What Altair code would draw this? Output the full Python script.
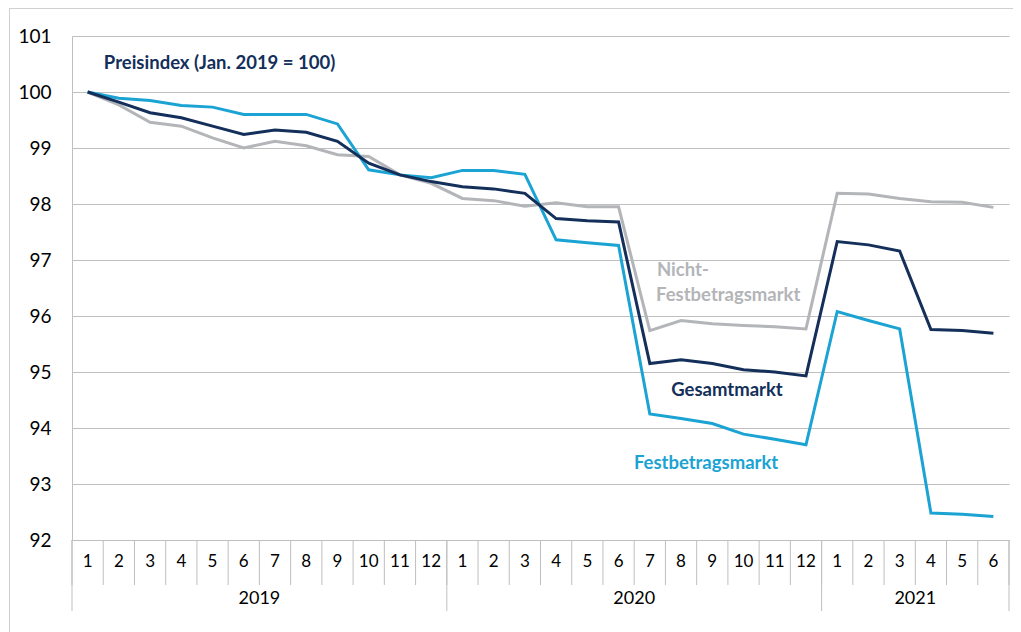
import altair as alt
import pandas as pd

# ---- data ----
month_labels = [str(m) for m in range(1, 13)] + [str(m) for m in range(1, 13)] + [str(m) for m in range(1, 7)]
years = ["2019", "2020", "2021"]
months_per_year = [12, 12, 6]

gesamt = [100.00, 99.82, 99.63, 99.54, 99.39, 99.24, 99.32, 99.28, 99.12, 98.73, 98.52, 98.40,
          98.31, 98.27, 98.19, 97.74, 97.70, 97.68, 95.15, 95.22, 95.15, 95.04, 95.00, 94.93,
          97.33, 97.27, 97.16, 95.76, 95.74, 95.69]
festbetrag = [100.00, 99.89, 99.85, 99.76, 99.73, 99.60, 99.60, 99.60, 99.43, 98.61, 98.52, 98.47,
              98.60, 98.60, 98.53, 97.36, 97.31, 97.26, 94.25, 94.17, 94.08, 93.89, 93.80, 93.70,
              96.08, 95.92, 95.77, 92.48, 92.46, 92.42]
nicht_fest = [100.00, 99.77, 99.46, 99.39, 99.18, 99.00, 99.12, 99.04, 98.88, 98.85, 98.52, 98.37,
              98.10, 98.06, 97.96, 98.02, 97.95, 97.95, 95.74, 95.92, 95.86, 95.83, 95.81, 95.77,
              98.19, 98.18, 98.10, 98.04, 98.03, 97.94]

y_ticks = list(range(92, 102))

# annotations (data units)
ann_text = ["Preisindex (Jan. 2019 = 100)", "Nicht-", "Festbetragsmarkt", "Gesamtmarkt", "Festbetragsmarkt"]
ann_x = [1.02, 18.73, 18.70, 20.97, 20.30]
ann_y = [100.52, 96.82, 96.37, 94.68, 93.38]

NAVY = "#132f5a"
LIGHT = "#1ba3d3"
GREY = "#b3b5b8"
GRID = "#bfbfbf"
FONT = "Lato"
ann_color = [NAVY, GREY, GREY, NAVY, LIGHT]
ann_align = ["left", "left", "left", "center", "center"]

n = len(month_labels)
pos = [i + 0.5 for i in range(n)]
df = pd.DataFrame({"pos": pos, "label": month_labels,
                   "ges": gesamt, "fest": festbetrag, "nicht": nicht_fest})

W, H = 937, 504
xs = alt.Scale(domain=[0, n], nice=False, zero=False)
ys = alt.Scale(domain=[92, 101], nice=False, zero=False)
y_axis = alt.Axis(values=y_ticks, title=None, ticks=False, grid=True,
                  gridColor=GRID, domainColor=GRID, labelFontSize=19,
                  labelFont=FONT, labelColor="#000000", labelPadding=21)

base = alt.Chart(df)


def line(field, color):
    return base.mark_line(color=color, strokeWidth=3).encode(
        x=alt.X("pos:Q", scale=xs, axis=None),
        y=alt.Y(f"{field}:Q", scale=ys, axis=y_axis),
    )


lines = [line("nicht", GREY), line("fest", LIGHT), line("ges", NAVY)]

# month separators
sep_df = pd.DataFrame({"b": list(range(n + 1))})
sep = alt.Chart(sep_df).mark_rule(color=GRID, strokeWidth=1).encode(
    x=alt.X("b:Q", scale=xs, axis=None), y=alt.value(H), y2=alt.value(H + 45))

# year separators
ybounds = [0]
for m in months_per_year:
    ybounds.append(ybounds[-1] + m)
ysep_df = pd.DataFrame({"b": ybounds})
ysep = alt.Chart(ysep_df).mark_rule(color=GRID, strokeWidth=1).encode(
    x=alt.X("b:Q", scale=xs, axis=None), y=alt.value(H), y2=alt.value(H + 71))

# month labels
mlab = base.mark_text(fontSize=17, font=FONT, color="#000000", baseline="middle").encode(
    x=alt.X("pos:Q", scale=xs, axis=None), y=alt.value(H + 22), text="label:N")

# year labels
ycent = [(ybounds[i] + ybounds[i + 1]) / 2 for i in range(len(years))]
ylab_df = pd.DataFrame({"c": ycent, "year": years})
ylab = alt.Chart(ylab_df).mark_text(fontSize=18, font=FONT, color="#000000", baseline="middle").encode(
    x=alt.X("c:Q", scale=xs, axis=None), y=alt.value(H + 59), text="year:N")

# annotations
ann_layers = []
for t, ax, ay, c, al in zip(ann_text, ann_x, ann_y, ann_color, ann_align):
    d = pd.DataFrame({"x": [ax], "y": [ay], "t": [t]})
    ann_layers.append(
        alt.Chart(d).mark_text(fontSize=18.5, font=FONT, fontWeight="bold", align=al,
                               baseline="middle", color=c).encode(
            x=alt.X("x:Q", scale=xs, axis=None),
            y=alt.Y("y:Q", scale=ys, axis=y_axis),
            text="t:N"))

# outer frame of the figure
frame_df = pd.DataFrame({"k": [0]})
frame_left = alt.Chart(frame_df).mark_rule(color="#d0d0d0", strokeWidth=1).encode(
    x=alt.value(-62.5), y=alt.value(-28), y2=alt.value(H + 100))
frame_top = alt.Chart(frame_df).mark_rule(color="#d0d0d0", strokeWidth=1).encode(
    x=alt.value(-63), x2=alt.value(W + 4), y=alt.value(-27.5))

chart = alt.layer(
    frame_left, frame_top, sep, ysep, mlab, ylab, *lines, *ann_layers
).properties(
    width=W, height=H,
    autosize=alt.AutoSizeParams(type="none"),
    padding={"left": 64, "top": 28, "right": 4, "bottom": 92},
).configure_view(strokeWidth=0)

chart.save("out.html", embed_options={"renderer": "svg", "actions": False})
